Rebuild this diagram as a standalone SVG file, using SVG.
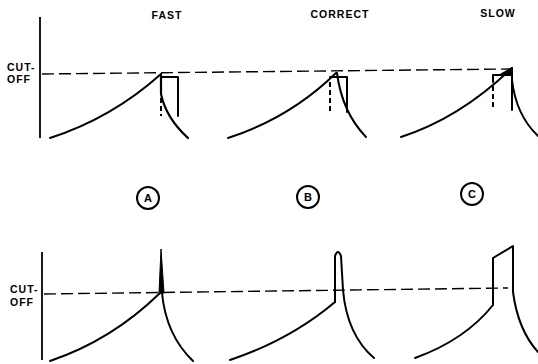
<svg xmlns="http://www.w3.org/2000/svg" width="538" height="364" viewBox="0 0 538 364">
<style>
.t{font-family:"Liberation Sans",Arial,sans-serif;font-weight:bold;font-size:10.5px;fill:#000;letter-spacing:1px}
.m{font-family:"Liberation Sans",Arial,sans-serif;font-weight:bold;font-size:11px;fill:#000}
.w{fill:none;stroke:#000;stroke-width:2;stroke-linecap:round;stroke-linejoin:round}
.ax{fill:none;stroke:#000;stroke-width:1.8}
.d{fill:none;stroke:#000;stroke-width:1.4;stroke-dasharray:12 5}
.vd{fill:none;stroke:#000;stroke-width:2;stroke-dasharray:5 3}
.c{fill:none;stroke:#000;stroke-width:2}
</style>
<rect width="538" height="364" fill="#fff"/>
<g id="labels">
<text class="t" x="167" y="19" text-anchor="middle">FAST</text>
<text class="t" x="340" y="18" text-anchor="middle">CORRECT</text>
<text class="t" x="498" y="17" text-anchor="middle">SLOW</text>
<text class="t" x="7" y="71">CUT-</text>
<text class="t" x="7" y="83">OFF</text>
<text class="t" x="10" y="293">CUT-</text>
<text class="t" x="10" y="306">OFF</text>
</g>
<g id="markers">
<g id="mA"><circle class="c" cx="148" cy="198" r="11"/><text class="m" x="148" y="202" text-anchor="middle">A</text></g>
<g id="mB"><circle class="c" cx="308" cy="197" r="11"/><text class="m" x="308" y="201" text-anchor="middle">B</text></g>
<g id="mC"><circle class="c" cx="472" cy="194" r="11"/><text class="m" x="472" y="198" text-anchor="middle">C</text></g>
</g>
<g id="top">
<path class="ax" d="M40,17 V138"/>
<path class="d" d="M42,74 L510,69"/>
<g id="topA">
<path class="w" d="M50,138 Q112,118 161,74"/>
<path class="w" d="M161,74 V94 Q166,118 188,138" style="stroke-width:2.2"/>
<path class="w" d="M161,77 H178 V116"/>
<path class="vd" d="M161,98 V116"/>
</g>
<g id="topB">
<path class="w" d="M228,138 Q290,118 336,73"/>
<path class="w" d="M337,73 Q342,112 366,137"/>
<path class="w" d="M330,77 H347 V112"/>
<path class="vd" d="M330,82 V112"/>
</g>
<g id="topC">
<path class="w" d="M401,137 Q460,118 512,68"/>
<path class="w" d="M512,68 V110"/>
<path class="w" d="M512,80 Q516,115 538,136"/>
<path class="w" d="M493,82 V75 H512"/>
<polygon points="498,75 512,67 512,76" fill="#000"/>
<path class="vd" d="M493,86 V110"/>
</g>
</g>
<g id="bottom">
<path class="ax" d="M42,252 V360"/>
<path class="d" d="M44,294 L508,288"/>
<g id="botA">
<path class="w" d="M50,361 Q112,340 160,293"/>
<polygon points="159,293 161,249 164,293" fill="#000" stroke="#000" stroke-width="1" stroke-linejoin="round"/>
<path class="w" d="M162,293 Q166,335 193,361"/>
</g>
<g id="botB">
<path class="w" d="M230,360 Q290,340 335,302"/>
<path class="w" d="M335,302 V256 Q338,248 341,256 L343,290 Q347,335 374,358"/>
</g>
<g id="botC">
<path class="w" d="M415,358 Q465,340 493,305"/>
<path class="w" d="M493,305 V258 L513,246 V292 Q518,330 538,352"/>
</g>
</g>
</svg>
